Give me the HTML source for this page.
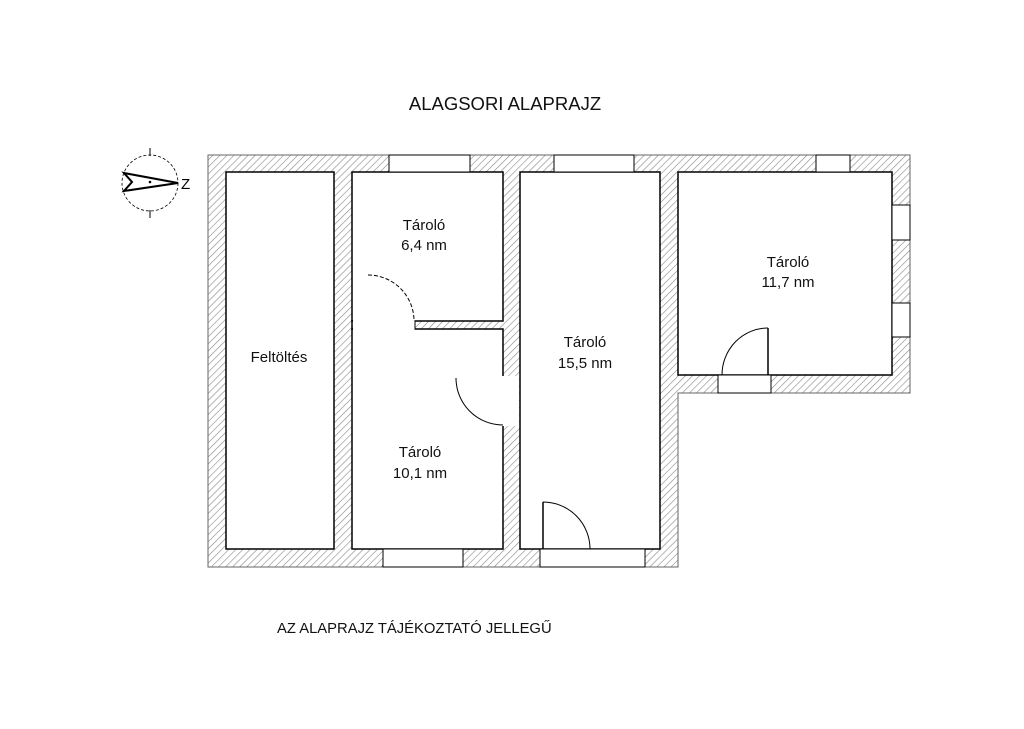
<!DOCTYPE html>
<html><head><meta charset="utf-8"><style>
body{margin:0;background:#fff;width:1024px;height:724px;overflow:hidden}
</style></head><body>
<svg width="1024" height="724" viewBox="0 0 1024 724" xmlns="http://www.w3.org/2000/svg" font-family="Liberation Sans, DejaVu Sans, sans-serif">
<defs>
<pattern id="h" width="5" height="5" patternUnits="userSpaceOnUse" patternTransform="rotate(45)">
<rect width="5" height="5" fill="#fff"/><line x1="0" y1="0" x2="0" y2="5" stroke="#888" stroke-width="1.2"/>
</pattern>
</defs>
<path d="M208 155 H910 V393 H678 V567 H208 Z" fill="url(#h)" stroke="#666" stroke-width="1"/>
<g fill="#fff" stroke="#000" stroke-width="1.5">
<rect x="226" y="172" width="108" height="377"/>
<rect x="352" y="172" width="151" height="149"/>
<rect x="352" y="329" width="151" height="220"/>
<rect x="520" y="172" width="140" height="377"/>
<rect x="678" y="172" width="214" height="203"/>
</g>
<g fill="#fff" stroke="none">
<rect x="353" y="320" width="61.5" height="10"/>
<rect x="502" y="376" width="17" height="50"/>
</g>
<line x1="352" y1="320" x2="352" y2="330" stroke="#000" stroke-width="1.5"/>
<line x1="415" y1="321" x2="415" y2="329" stroke="#000"/>
<line x1="520" y1="375" x2="520" y2="427" stroke="#000"/>
<g fill="#fff" stroke="#000" stroke-width="1">
<rect x="389" y="155" width="81" height="17"/>
<rect x="554" y="155" width="80" height="17"/>
<rect x="816" y="155" width="34" height="17"/>
<rect x="892" y="205" width="18" height="35"/>
<rect x="892" y="303" width="18" height="34"/>
<rect x="383" y="549" width="80" height="18"/>
<rect x="540" y="549" width="105" height="18"/>
<rect x="718" y="375" width="53" height="18"/>
</g>
<g fill="none" stroke="#000" stroke-width="1">
<path d="M368 275 A46 46 0 0 1 414 321" stroke-dasharray="4,2"/>
<path d="M456 378 A47 47 0 0 0 503 425"/>
<line x1="543" y1="502" x2="543" y2="549" stroke-width="1.5"/>
<path d="M543 502 A47 47 0 0 1 590 549"/>
<line x1="768" y1="328" x2="768" y2="375" stroke-width="1.5"/>
<path d="M768 328 A46 47 0 0 0 722 375"/>
</g>
<g fill="none" stroke="#000">
<circle cx="150" cy="183" r="28" stroke-dasharray="3,2" stroke-width="0.8"/>
<line x1="150" y1="148" x2="150" y2="156"/>
<line x1="150" y1="210" x2="150" y2="218"/>
<path d="M124 173 L178 183 L124 191 L132 182 Z" stroke-width="2"/>
<circle cx="150" cy="182" r="0.8" fill="#000"/>
</g>
<text x="181" y="189" font-size="15">Z</text>
<g font-size="15" fill="#111" text-anchor="middle">
<text x="279" y="362">Feltöltés</text>
<text x="424" y="230">Tároló</text><text x="424" y="250">6,4 nm</text>
<text x="420" y="457">Tároló</text><text x="420" y="478">10,1 nm</text>
<text x="585" y="347">Tároló</text><text x="585" y="368">15,5 nm</text>
<text x="788" y="267">Tároló</text><text x="788" y="287">11,7 nm</text>
</g>
<text x="505" y="110" font-size="18.5" text-anchor="middle" fill="#111">ALAGSORI ALAPRAJZ</text>
<text x="277" y="633" font-size="14.8" fill="#111">AZ ALAPRAJZ TÁJÉKOZTATÓ JELLEGŰ</text>
</svg>
</body></html>
